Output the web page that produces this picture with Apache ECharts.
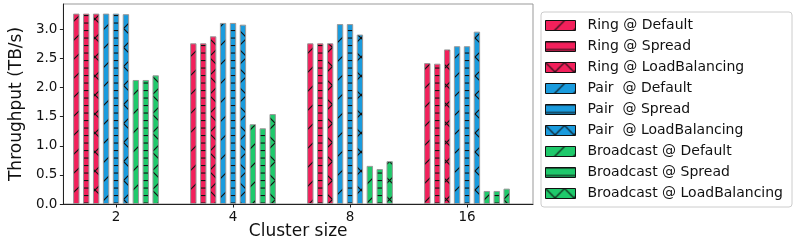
<!DOCTYPE html>
<html><head><meta charset="utf-8">
<script src="https://cdn.jsdelivr.net/npm/echarts@6/dist/echarts.min.js"></script>
<style>html,body{margin:0;padding:0;background:#fff}#c{width:798px;height:247px}</style>
</head><body><div id="c"></div>
<script>
// ---- data ----
const categories = ['2', '4', '8', '16'];
const yTicks = [0, 0.5, 1.0, 1.5, 2.0, 2.5, 3.0];
const seriesNames = ['Ring @ Default', 'Ring @ Spread', 'Ring @ LoadBalancing',
  'Pair  @ Default', 'Pair  @ Spread', 'Pair  @ LoadBalancing',
  'Broadcast @ Default', 'Broadcast @ Spread', 'Broadcast @ LoadBalancing'];
const ringDefault = [3.27, 2.76, 2.76, 2.42];
const ringSpread = [3.27, 2.76, 2.76, 2.41];
const ringLB = [3.27, 2.88, 2.76, 2.655];
const pairDefault = [3.27, 3.11, 3.09, 2.71];
const pairSpread = [3.27, 3.11, 3.09, 2.71];
const pairLB = [3.26, 3.08, 2.91, 2.96];
const bcDefault = [2.13, 1.37, 0.655, 0.224];
const bcSpread = [2.13, 1.30, 0.60, 0.224];
const bcLB = [2.21, 1.545, 0.735, 0.264];
const seriesValues = [ringDefault, ringSpread, ringLB, pairDefault, pairSpread, pairLB, bcDefault, bcSpread, bcLB];

// ---- styling ----
const RED = '#F2205B', BLUE = '#1A9BDD', GREEN = '#1FC96B';
const baseColors = [RED, RED, RED, BLUE, BLUE, BLUE, GREEN, GREEN, GREEN];
const hatches = ['/', '-', 'x', '/', '-', 'x', '/', '-', 'x'];

function makeHatch(color, kind) {
  const c = document.createElement('canvas');
  const T = 19;
  if (kind === '-') { c.width = 4; c.height = 15; }
  else { c.width = T; c.height = T; }
  const g = c.getContext('2d');
  g.fillStyle = color;
  g.fillRect(0, 0, c.width, c.height);
  g.strokeStyle = '#111';
  g.fillStyle = '#111';
  g.lineWidth = 1.2;
  if (kind === '-') {
    g.fillRect(0, 0, c.width, 1.1);
    g.fillRect(0, 7.5, c.width, 1.1);
  } else {
    const seg = (a, b, cc, d) => { g.beginPath(); g.moveTo(a, b); g.lineTo(cc, d); g.stroke(); };
    seg(0, T, T, 0); seg(-1, 1, 1, -1); seg(T - 1, T + 1, T + 1, T - 1);
    if (kind === 'x') {
      seg(0, 0, T, T); seg(T - 1, -1, T + 1, 1); seg(-1, T - 1, 1, T + 1);
    }
  }
  return { image: c, repeat: 'repeat' };
}

const FONT = 'DejaVu Sans';
const chart = echarts.init(document.getElementById('c'), null, { renderer: 'canvas' });

const YMAX = 3.435;
const series = seriesNames.map((name, i) => ({
  name: name,
  type: 'bar',
  xAxisIndex: 0, yAxisIndex: 0,
  data: seriesValues[i],
  barWidth: 6.4,
  barGap: '55%',
  itemStyle: { color: makeHatch(baseColors[i], hatches[i]), borderColor: '#999', borderWidth: 1 },
  emphasis: { disabled: true },
  animation: false
}));

chart.setOption({
  animation: false,
  grid: [
    { left: 57.5, right: 272.5, top: 4, bottom: 43, show: false },
    { left: 51, right: 265, top: 4, bottom: 43, show: true, borderColor: '#999', borderWidth: 1, backgroundColor: 'transparent' }
  ],
  xAxis: [
    {
      gridIndex: 0, type: 'category', data: categories, boundaryGap: true,
      axisLine: { show: false },
      axisTick: { show: true, alignWithLabel: true, length: 3.5, lineStyle: { color: '#222' } },
      axisLabel: { fontFamily: FONT, fontSize: 13.5, color: '#111', margin: 6 },
      splitLine: { show: false }
    },
    {
      gridIndex: 1, type: 'value', min: 0, max: 1,
      name: 'Cluster size', nameLocation: 'middle', nameGap: 19,
      nameTextStyle: { fontFamily: FONT, fontSize: 17, color: '#111', verticalAlign: 'top' },
      axisLine: { show: true, onZero: false, lineStyle: { color: '#222', width: 1 } },
      axisTick: { show: false }, axisLabel: { show: false }, splitLine: { show: false }
    }
  ],
  yAxis: [
    {
      gridIndex: 0, type: 'value', min: 0, max: YMAX,
      axisLine: { show: false }, axisTick: { show: false }, axisLabel: { show: false }, splitLine: { show: false }
    },
    {
      gridIndex: 1, type: 'value', min: 0, max: YMAX,
      name: 'Throughput (TB/s)', nameLocation: 'middle', nameGap: 35,
      nameTextStyle: { fontFamily: FONT, fontSize: 17, color: '#111' },
      axisLine: { show: true, lineStyle: { color: '#222', width: 1 } },
      axisTick: { show: true, length: 3.5, lineStyle: { color: '#222' }, customValues: yTicks },
      axisLabel: { fontFamily: FONT, fontSize: 13.5, color: '#111', margin: 6, customValues: yTicks,
        formatter: v => v.toFixed(1) },
      splitLine: { show: false }
    }
  ],
  legend: {
    orient: 'vertical', left: 541, top: 12,
    itemWidth: 30, itemHeight: 10, itemGap: 4,
    padding: [5, 9, 5, 4],
    backgroundColor: '#fff', borderColor: '#ccc', borderWidth: 1, borderRadius: 3,
    icon: 'rect',
    itemStyle: { borderColor: '#111', borderWidth: 1 },
    textStyle: { fontFamily: FONT, fontSize: 14, color: '#111', padding: [0, 0, 0, 7], lineHeight: 17 },
    selectedMode: false,
    data: seriesNames
  },
  series: series
});
</script></body></html>
